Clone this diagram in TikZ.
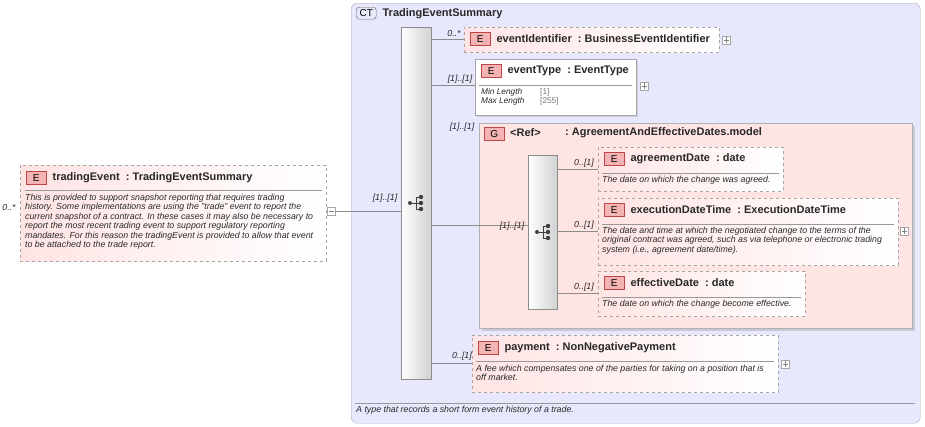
\documentclass[tikz,border=0pt]{standalone}
\usepackage{fontspec}
\setmainfont{Liberation Sans}
\usetikzlibrary{positioning,shadows}
\definecolor{ctfill}{RGB}{232,232,252}
\definecolor{ctline}{RGB}{170,170,190}
\definecolor{elfill}{RGB}{255,228,228}
\definecolor{grfill}{RGB}{255,228,228}
\definecolor{badge}{RGB}{245,180,180}
\definecolor{badgeline}{RGB}{190,70,70}
\definecolor{txt}{RGB}{40,40,40}
\definecolor{dim}{RGB}{120,120,120}
\tikzset{
	elem/.style={draw=black!35, dashed, left color=elfill, right color=white, anchor=north west, inner sep=0pt},
	solidelem/.style={draw=black!35, left color=white, right color=white, anchor=north west, inner sep=0pt, drop shadow={opacity=0.25, shadow xshift=2pt, shadow yshift=-2pt}},
	grp/.style={draw=black!30, fill=grfill, anchor=north west, inner sep=0pt, drop shadow={opacity=0.3, shadow xshift=3pt, shadow yshift=-3pt}},
	bar/.style={draw=black!45, left color=white, right color=black!18, anchor=north west, inner sep=0pt},
	badgeE/.style={draw=badgeline, fill=badge, minimum width=20pt, minimum height=13pt, inner sep=0pt, anchor=north west, font=\fontsize{10}{10}\selectfont},
	title/.style={anchor=west, inner sep=0pt, font=\bfseries\fontsize{11}{12}\selectfont, text=txt},
	desc/.style={anchor=north west, inner sep=0pt, align=left, font=\itshape\fontsize{8.8}{9.4}\selectfont, text=txt},
	card/.style={inner sep=0pt, font=\itshape\fontsize{8.8}{9}\selectfont, text=txt},
	pm/.style={draw=black!35, fill=white, minimum size=8pt, inner sep=0pt, anchor=west},
	conn/.style={draw=black!45, line width=0.5pt},
	sep/.style={draw=black!40, line width=0.5pt}
}
\newcommand{\seqicon}[1]{%
	\begin{scope}[shift={(#1)}, black!75, line width=0.8pt]
		\draw (-6,0) -- (0,0) (0,-6) -- (0,6) (0,-6) -- (5,-6) (0,0) -- (5,0) (0,6) -- (5,6);
		\fill (-6,0) circle (2pt) (5,-6) circle (2.2pt) (5,0) circle (2.2pt) (5,6) circle (2.2pt);
	\end{scope}}
\newcommand{\plusbox}[2]{\node[pm] (#1) at (#2) {}; \draw[black!50] ([xshift=1.5pt]#1.west) -- ([xshift=-1.5pt]#1.east) ([yshift=1.5pt]#1.south) -- ([yshift=-1.5pt]#1.north);}
\begin{document}
\begin{tikzpicture}[x=1pt, y=-1pt]
	\useasboundingbox (0,0) rectangle (925,426);

	% complex type
	\node [draw=ctline, fill=ctfill, rounded corners=6pt, anchor=north west, minimum width=569pt, minimum height=420pt, inner sep=0pt] (ct) at (351,3) {};
	\node [draw=black!60, fill=ctfill, rounded corners=3pt, minimum width=20pt, minimum height=12pt, inner sep=0pt, anchor=north west, font=\fontsize{10}{10}\selectfont] (ctb) at (356,7) {CT};
	\node [title, right=6pt of ctb] {TradingEventSummary};
	\draw [sep] (355,403) -- (915,403);
	\node [desc] (ctdesc) at (356,406) {A type that records a short form event history of a trade.};

	% main sequence
	\node [bar, minimum width=30pt, minimum height=352pt] (seq) at (401,27) {};
	\seqicon{416,203}

	% tradingEvent
	\node [elem, minimum width=306pt, minimum height=96pt] (tev) at (20,165) {};
	\node [badgeE] (tevb) at (26,171) {E};
	\node [title, right=6pt of tevb] {tradingEvent\ \ :\ TradingEventSummary};
	\draw [sep] (25,190) -- (322,190);
	\node [desc] at (25,194) {This is provided to support snapshot reporting that requires trading\\history. Some implementations are using the "trade" event to report the\\current snapshot of a contract. In these cases it may also be necessary to\\report the most recent trading event to support regulatory reporting\\mandates. For this reason the tradingEvent is provided to allow that event\\to be attached to the trade report.};
	\node [card] at (9,207) {0..*};
	\node [pm] (tevm) at (327,211) {};
	\draw [black!50] ([xshift=1.5pt]tevm.west) -- ([xshift=-1.5pt]tevm.east);
	\draw [conn] (tevm.east) -- (tevm.east -| seq.west);
	\node [card] at (385,198) {[1]..[1]};

	% eventIdentifier
	\node [elem, minimum width=255pt, minimum height=25pt] (evid) at (464,27) {};
	\node [badgeE] (evidb) at (470,32) {E};
	\node [title, right=6pt of evidb] {eventIdentifier\ \ :\ BusinessEventIdentifier};
	\plusbox{evidp}{722,40}
	\draw [conn] (seq.east |- evid.west) -- (evid.west);
	\node [card] at (454,33) {0..*};

	% eventType
	\node [solidelem, minimum width=161pt, minimum height=56pt] (evty) at (475,59) {};
	\node [badgeE] (evtyb) at (481,64) {E};
	\node [title, right=6pt of evtyb] {eventType\ \ :\ EventType};
	\draw [sep] (479,85) -- (632,85);
	\node [desc, font=\itshape\fontsize{8.3}{8.8}\selectfont] at (481,88) {Min Length\\Max Length};
	\node [desc, font=\fontsize{8.3}{8.8}\selectfont, text=dim] at (540,88) {[1]\\{[255]}};
	\plusbox{evtyp}{640,86}
	\draw [conn] (431,85) -- (475,85);
	\node [card] at (460,79) {[1]..[1]};

	% group
	\node [grp, minimum width=433pt, minimum height=205pt] (grp) at (479,123) {};
	\node [draw=badgeline, fill=badge, minimum width=20pt, minimum height=13pt, inner sep=0pt, anchor=north west, font=\fontsize{10}{10}\selectfont] (grpb) at (484,127) {G};
	\node [title] at (510,133) {<Ref>};
	\node [title] at (565,133) {:\ AgreementAndEffectiveDates.model};
	\node [card] at (462,127) {[1]..[1]};
	\node [bar, minimum width=29pt, minimum height=154pt] (iseq) at (528,155) {};
	\seqicon{543,232}
	\draw [conn] (seq.east |- grp.west) -- (iseq.west |- grp.west);
	\node [card] at (512,226) {[1]..[1]};

	% agreementDate
	\node [elem, minimum width=185pt, minimum height=44pt] (agd) at (598,147) {};
	\node [badgeE] (agdb) at (604,152) {E};
	\node [title, right=6pt of agdb] {agreementDate\ \ :\ date};
	\draw [sep] (602,173) -- (779,173);
	\node [desc] at (602,176) {The date on which the change was agreed.};
	\draw [conn] (iseq.east |- agd.west) -- (agd.west);
	\node [card] at (584,163) {0..[1]};

	% executionDateTime
	\node [elem, minimum width=300pt, minimum height=67pt] (exd) at (598,198) {};
	\node [badgeE] (exdb) at (604,203) {E};
	\node [title, right=6pt of exdb] {executionDateTime\ \ :\ ExecutionDateTime};
	\draw [sep] (602,224) -- (894,224);
	\node [desc] at (602,227) {The date and time at which the negotiated change to the terms of the\\original contract was agreed, such as via telephone or electronic trading\\system (i.e., agreement date/time).};
	\plusbox{exdp}{900,231}
	\draw [conn] (iseq.east |- exd.west) -- (exd.west);
	\node [card] at (584,225) {0..[1]};

	% effectiveDate
	\node [elem, minimum width=207pt, minimum height=45pt] (efd) at (598,271) {};
	\node [badgeE] (efdb) at (604,276) {E};
	\node [title, right=6pt of efdb] {effectiveDate\ \ :\ date};
	\draw [sep] (602,297) -- (801,297);
	\node [desc] at (602,300) {The date on which the change become effective.};
	\draw [conn] (iseq.east |- efd.west) -- (efd.west);
	\node [card] at (584,287) {0..[1]};

	% payment
	\node [elem, minimum width=306pt, minimum height=57pt] (pay) at (472,335) {};
	\node [badgeE] (payb) at (478,341) {E};
	\node [title, right=6pt of payb] {payment\ \ :\ NonNegativePayment};
	\draw [sep] (476,361) -- (774,361);
	\node [desc] at (476,365) {A fee which compensates one of the parties for taking on a position that is\\off market.};
	\plusbox{payp}{781,364}
	\draw [conn] (seq.east |- pay.west) -- (pay.west);
	\node [card] at (462,356) {0..[1]};
\end{tikzpicture}
\end{document}
